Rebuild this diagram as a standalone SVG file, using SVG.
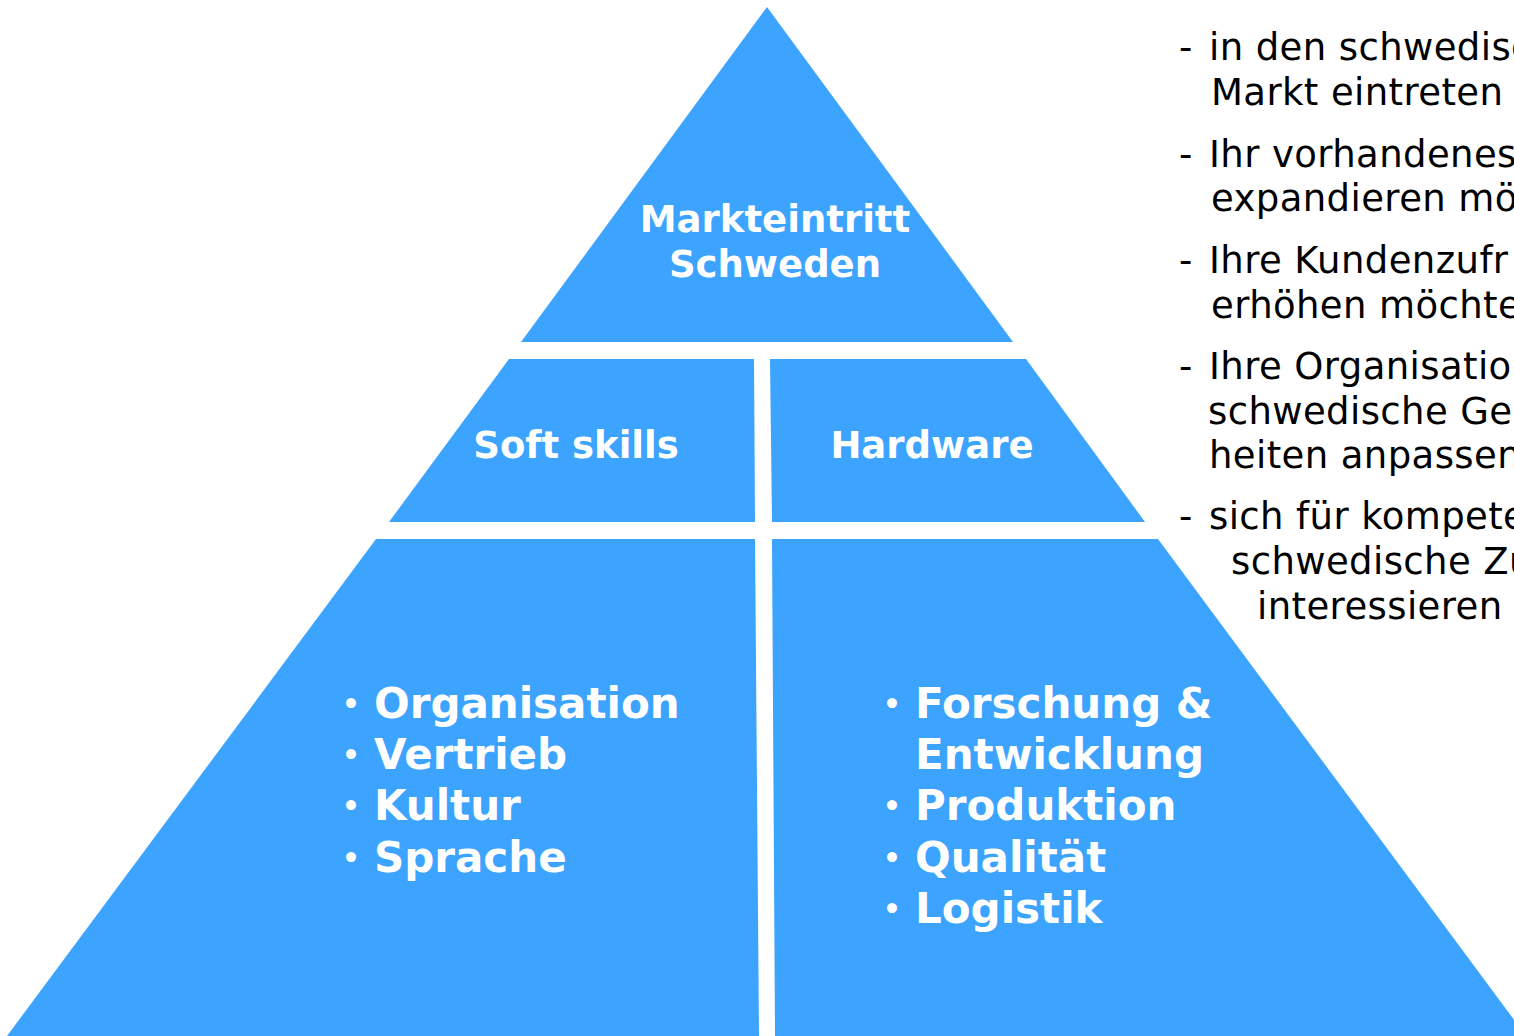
<svg xmlns="http://www.w3.org/2000/svg" width="1514" height="1036" viewBox="0 0 1514 1036">
<style>
.seg{fill:#3CA3FF}
.lbl{font-family:"DejaVu Sans","Verdana",sans-serif;font-weight:bold;fill:#FFFFFF;font-size:37px;text-anchor:middle}
.lst{font-family:"DejaVu Sans","Verdana",sans-serif;font-weight:bold;fill:#FFFFFF;font-size:42px}
.bul{font-family:"DejaVu Sans","Verdana",sans-serif;font-weight:bold;fill:#FFFFFF;font-size:28px;text-anchor:middle}
.side{font-family:"DejaVu Sans","Verdana",sans-serif;fill:#000000;font-size:37px;letter-spacing:0.4px}
</style>
<rect width="1514" height="1036" fill="#FFFFFF"/>
<g id="connectors"></g>
<g id="top">
<polygon class="seg" points="767,7 521,342 1013,342"/>
<text class="lbl" x="775" y="232">Markteintritt</text>
<text class="lbl" x="775" y="277">Schweden</text>
</g>
<g id="soft-skills">
<polygon class="seg" points="509,359 754,359 755,522 389,522"/>
<text class="lbl" x="576" y="458">Soft skills</text>
</g>
<g id="hardware">
<polygon class="seg" points="770,359 1026,359 1145,522 772,522"/>
<text class="lbl" x="932" y="458">Hardware</text>
</g>
<g id="soft-list">
<polygon class="seg" points="376,539 755,539 759,1036 7,1036"/>
<text class="bul" x="351" y="714">•</text>
<text class="bul" x="351" y="765">•</text>
<text class="bul" x="351" y="816">•</text>
<text class="bul" x="351" y="868">•</text>
<text class="lst" x="374" y="718">Organisation</text>
<text class="lst" x="374" y="769">Vertrieb</text>
<text class="lst" x="374" y="820">Kultur</text>
<text class="lst" x="374" y="872">Sprache</text>
</g>
<g id="hard-list">
<polygon class="seg" points="772,539 1158,539 1526,1036 775,1036"/>
<text class="bul" x="892" y="714">•</text>
<text class="bul" x="892" y="816">•</text>
<text class="bul" x="892" y="868">•</text>
<text class="bul" x="892" y="919">•</text>
<text class="lst" x="915" y="718">Forschung &amp;</text>
<text class="lst" x="915" y="769">Entwicklung</text>
<text class="lst" x="915" y="820">Produktion</text>
<text class="lst" x="915" y="872">Qualität</text>
<text class="lst" x="915" y="923">Logistik</text>
</g>
<g id="side-text">
<text class="side"><tspan x="1179" y="60">-</tspan><tspan x="1209" y="60">in den schwedisc</tspan></text>
<text class="side" x="1211" y="105">Markt eintreten</text>
<text class="side"><tspan x="1179" y="167">-</tspan><tspan x="1209" y="167">Ihr vorhandenes</tspan></text>
<text class="side" x="1211" y="211">expandieren mö</text>
<text class="side"><tspan x="1179" y="273">-</tspan><tspan x="1209" y="273">Ihre Kundenzufr</tspan></text>
<text class="side" x="1211" y="318">erhöhen möchte</text>
<text class="side"><tspan x="1179" y="379">-</tspan><tspan x="1209" y="379">Ihre Organisatio</tspan></text>
<text class="side" x="1208" y="424">schwedische Geg</text>
<text class="side" x="1209" y="468">heiten anpassen</text>
<text class="side"><tspan x="1179" y="529">-</tspan><tspan x="1209" y="529">sich für kompete</tspan></text>
<text class="side" x="1231" y="574">schwedische Zu</text>
<text class="side" x="1257" y="619">interessieren</text>
</g>
</svg>
